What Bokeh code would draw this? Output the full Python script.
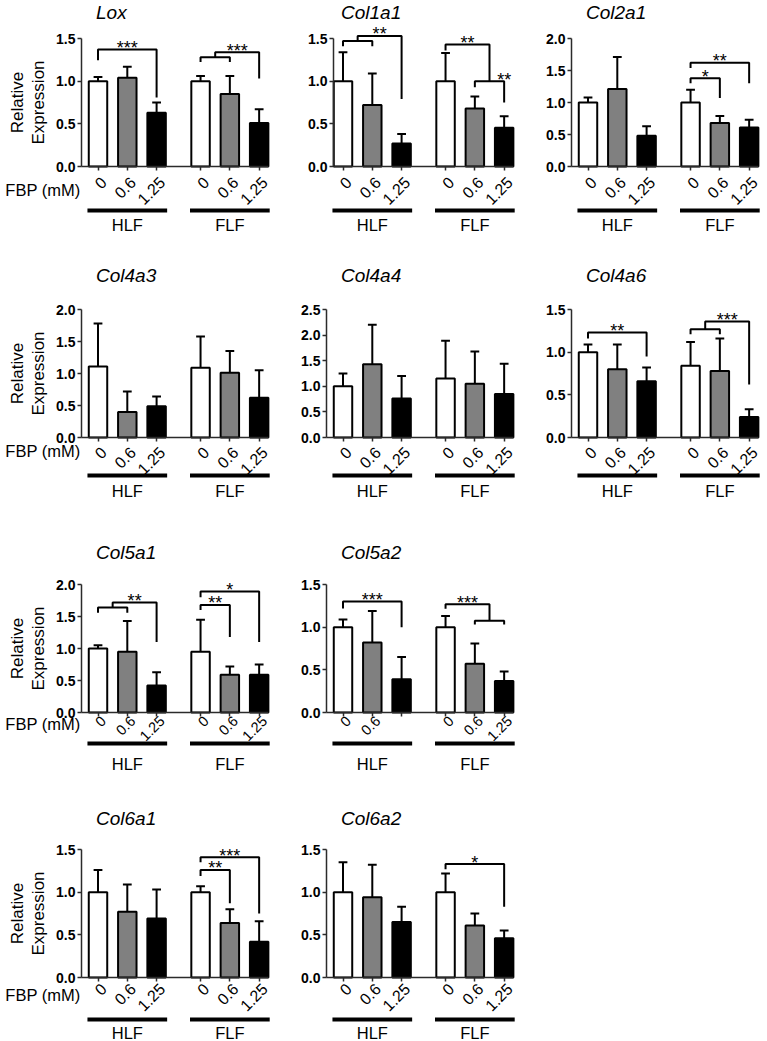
import numpy as np
from bokeh.plotting import figure
from bokeh.models import Range1d, FixedTicker, PrintfTickFormatter
from bokeh.layouts import column, row
from bokeh.embed import file_html
from bokeh.resources import INLINE
from bokeh.core.properties import value

# ---------------- data ----------------
doses = ["0", "0.6", "1.25"]
cell_lines = ["HLF", "FLF"]
bar_colors = ["white", "#808080", "black"]

lox_mean = [1.00, 1.04, 0.63, 1.00, 0.85, 0.51]
lox_err = [0.05, 0.13, 0.12, 0.06, 0.21, 0.16]
col1a1_mean = [1.00, 0.72, 0.27, 1.00, 0.68, 0.455]
col1a1_err = [0.34, 0.37, 0.11, 0.33, 0.14, 0.135]
col2a1_mean = [1.00, 1.21, 0.48, 1.00, 0.68, 0.61]
col2a1_err = [0.08, 0.50, 0.15, 0.20, 0.11, 0.12]
col4a3_mean = [1.11, 0.40, 0.49, 1.09, 1.01, 0.62]
col4a3_err = [0.67, 0.32, 0.15, 0.49, 0.34, 0.43]
col4a4_mean = [1.00, 1.43, 0.76, 1.15, 1.05, 0.85]
col4a4_err = [0.25, 0.77, 0.44, 0.74, 0.63, 0.59]
col4a6_mean = [1.00, 0.80, 0.66, 0.84, 0.78, 0.24]
col4a6_err = [0.09, 0.29, 0.16, 0.28, 0.38, 0.09]
col5a1_mean = [1.00, 0.95, 0.42, 0.95, 0.59, 0.59]
col5a1_err = [0.05, 0.48, 0.21, 0.50, 0.13, 0.16]
col5a2_mean = [1.00, 0.82, 0.39, 1.00, 0.57, 0.37]
col5a2_err = [0.09, 0.37, 0.26, 0.13, 0.24, 0.11]
col6a1_mean = [1.00, 0.77, 0.69, 1.00, 0.64, 0.42]
col6a1_err = [0.26, 0.32, 0.34, 0.07, 0.16, 0.24]
col6a2_mean = [1.00, 0.94, 0.65, 1.00, 0.61, 0.46]
col6a2_err = [0.35, 0.38, 0.18, 0.22, 0.14, 0.09]

y_max = {"Lox": 1.5, "Col1a1": 1.5, "Col2a1": 2.0, "Col4a3": 2.0, "Col4a4": 2.5,
         "Col4a6": 1.5, "Col5a1": 2.0, "Col5a2": 1.5, "Col6a1": 1.5, "Col6a2": 1.5}

# significance brackets: (bar_from, bar_to, top, left_foot, right_foot, label, label_at_bar)
lox_sig = [(0, 2, 1.37, 1.245, 0.81, "***", 1),
           (3, 4, 1.28, 1.225, 1.225, "", 3.5),
           (3.5, 5, 1.34, 1.28, 1.03, "***", 4.25)]
col1a1_sig = [(0, 1, 1.47, 1.41, 1.41, "", 0.5),
              (0.5, 2, 1.53, 1.47, 0.79, "**", 1.25),
              (3, 4.5, 1.43, 1.36, 1.0, "**", 3.75),
              (4, 5, 1.0, 0.93, 0.75, "**", 5)]
col2a1_sig = [(3, 4, 1.38, 1.30, 1.07, "*", 3.5),
              (3, 5, 1.62, 1.54, 1.30, "**", 4)]
col4a6_sig = [(0, 2, 1.23, 1.16, 0.95, "**", 1),
              (3, 4, 1.27, 1.21, 1.21, "", 3.5),
              (3.5, 5, 1.36, 1.27, 0.62, "***", 4.25)]
col5a1_sig = [(0, 1, 1.64, 1.56, 1.56, "", 0.5),
              (0.5, 2, 1.72, 1.64, 1.10, "**", 1.25),
              (3, 4, 1.68, 1.60, 1.18, "**", 3.5),
              (3, 5, 1.89, 1.80, 1.10, "*", 4)]
col5a2_sig = [(0, 2, 1.30, 1.22, 1.0, "***", 1),
              (3, 4.5, 1.27, 1.215, 1.075, "***", 3.75),
              (4, 5, 1.075, 1.03, 1.03, "", 4.5)]
col6a1_sig = [(3, 4, 1.26, 1.19, 0.87, "**", 3.5),
              (3, 5, 1.41, 1.35, 0.75, "***", 4)]
col6a2_sig = [(3, 5, 1.33, 1.27, 0.83, "*", 4)]

panels = {
    "Lox": (lox_mean, lox_err, lox_sig),
    "Col1a1": (col1a1_mean, col1a1_err, col1a1_sig),
    "Col2a1": (col2a1_mean, col2a1_err, col2a1_sig),
    "Col4a3": (col4a3_mean, col4a3_err, []),
    "Col4a4": (col4a4_mean, col4a4_err, []),
    "Col4a6": (col4a6_mean, col4a6_err, col4a6_sig),
    "Col5a1": (col5a1_mean, col5a1_err, col5a1_sig),
    "Col5a2": (col5a2_mean, col5a2_err, col5a2_sig),
    "Col6a1": (col6a1_mean, col6a1_err, col6a1_sig),
    "Col6a2": (col6a2_mean, col6a2_err, col6a2_sig),
}
grid = [["Lox", "Col1a1", "Col2a1"],
        ["Col4a3", "Col4a4", "Col4a6"],
        ["Col5a1", "Col5a2"],
        ["Col6a1", "Col6a2"]]
# tick labels missing in the original figure
hidden_ticks = {"Col5a2": [2]}

# ---------------- layout constants ----------------
FONT = "Liberation Sans"
PX = 29.3            # pixels per bar slot
PLOT_H = 128.0       # pixels from 0 to y max
POS = [0, 1, 2, 3.5, 4.5, 5.5]
BAR_W = 0.63
COL_LEFT = [0, 285, 530]
COL_W = [285, 245, 236]
COL_FIRST = [97.5, 342.5, 587.5]
ROW_H = [262, 273, 260, 245]
ZERO = [166, 175, 177, 182]
TITLE_UP = [154, 162, 160, 159]
FBP_DN = [23, 13, 11.5, 17]
TICKLAB_DN = [13, 12, 6, 8.5]
TICKLAB_SIZE = ["16px", "16px", "14.5px", "16px"]
LINE_DN = [44, 38, 31, 42]
GROUP_DN = [58, 53, 51, 55]
AXIS_COLOR = "#2b2b2b"


def bar_x(i):
    return float(np.interp(i, [0, 1, 2, 3, 4, 5], POS))


def make_panel(gene, r, c):
    mean, err, sig = panels[gene]
    ymax = y_max[gene]
    W, H = COL_W[c], ROW_H[r]
    ppy = PLOT_H / ymax
    x0 = (COL_LEFT[c] - COL_FIRST[c]) / PX
    p = figure(frame_width=W, frame_height=H,
               x_range=Range1d(x0, x0 + W / PX),
               y_range=Range1d(-(H - ZERO[r]) / ppy, ZERO[r] / ppy),
               toolbar_location=None, output_backend="svg", min_border=0, title=None)
    p.outline_line_color = None
    p.grid.visible = False
    p.background_fill_color = "white"
    p.border_fill_color = "white"

    axis_x = (-9.5 if gene == "Col1a1" else -16.5) / PX

    # bars and error bars
    mean = np.array(mean)
    top = mean + np.array(err)
    colors = bar_colors * 2
    p.vbar(x=POS, top=mean, width=BAR_W, bottom=0, fill_color=colors,
           line_color="black", line_width=2)
    p.segment(x0=POS, y0=mean, x1=POS, y1=top, line_color="black", line_width=2)
    p.segment(x0=[x - 0.15 for x in POS], y0=top, x1=[x + 0.15 for x in POS], y1=top,
              line_color="black", line_width=2)

    # significance brackets
    xs, ys, lx, ly, lt = [], [], [], [], []
    for (a, b, t, fa, fb, lab, li) in sig:
        xa, xb = bar_x(a), bar_x(b)
        xs.append([xa, xa, xb, xb])
        ys.append([fa, t, t, fb])
        if lab:
            lx.append(bar_x(li))
            ly.append(t + 1.5 / ppy)
            lt.append(lab)
    if xs:
        p.multi_line(xs=xs, ys=ys, line_color="black", line_width=2)
    if lt:
        p.text(x=lx, y=ly, text=lt, text_font=value(FONT), text_font_size=value("18px"),
               text_align="center", text_baseline="alphabetic", text_color="black")

    # axes
    ya = p.yaxis[0]
    ya.fixed_location = axis_x
    ya.bounds = (0, ymax)
    ya.ticker = FixedTicker(ticks=list(np.arange(0, ymax + 0.01, 0.5)))
    ya.formatter = PrintfTickFormatter(format="%.1f")
    ya.major_label_text_font = FONT
    ya.major_label_text_font_size = "14px"
    ya.major_label_text_font_style = "bold"
    ya.major_label_text_color = "black"
    ya.major_label_standoff = 2
    ya.major_tick_out = 4
    ya.major_tick_in = 0
    ya.minor_tick_out = 0
    ya.minor_tick_in = 0
    ya.axis_line_width = 1.5
    ya.major_tick_line_width = 1.5
    ya.axis_line_color = AXIS_COLOR
    ya.major_tick_line_color = AXIS_COLOR

    xa = p.xaxis[0]
    xa.fixed_location = 0
    xa.bounds = (axis_x, POS[-1] + BAR_W / 2)
    xa.ticker = FixedTicker(ticks=POS)
    xa.major_label_overrides = {x: "" for x in POS}
    xa.major_tick_out = 4
    xa.major_tick_in = 0
    xa.minor_tick_out = 0
    xa.minor_tick_in = 0
    xa.axis_line_width = 1.5
    xa.major_tick_line_width = 1.5
    xa.axis_line_color = AXIS_COLOR
    xa.major_tick_line_color = AXIS_COLOR

    # rotated dose labels under the ticks
    tx, tt = [], []
    for k, x in enumerate(POS):
        if k in hidden_ticks.get(gene, []):
            continue
        tx.append(x + 5.5 / PX)
        tt.append(doses[k % 3])
    p.text(x=tx, y=[-TICKLAB_DN[r] / ppy] * len(tx), text=tt, angle=np.pi / 4,
           text_font=value(FONT), text_font_size=value(TICKLAB_SIZE[r]),
           text_align="right", text_baseline="middle", text_color="black")

    # group lines and labels
    yl = -LINE_DN[r] / ppy
    p.segment(x0=[-0.36, 3.14], y0=[yl, yl], x1=[2.36, 5.86], y1=[yl, yl],
              line_color="black", line_width=4)
    p.text(x=[1, 4.5], y=[-GROUP_DN[r] / ppy] * 2, text=cell_lines,
           text_font=value(FONT), text_font_size=value("16.5px"),
           text_align="center", text_baseline="middle", text_color="black")

    # title
    p.text(x=[-2 / PX], y=[TITLE_UP[r] / ppy], text=[gene], text_font=value(FONT),
           text_font_size=value("19px"), text_font_style="italic",
           text_align="left", text_baseline="middle", text_color="black")

    if c == 0:
        p.text(x=[(17 - COL_FIRST[0]) / PX, (38 - COL_FIRST[0]) / PX], y=[ymax / 2] * 2,
               text=["Relative", "Expression"], angle=np.pi / 2,
               text_font=value(FONT), text_font_size=value("17px"),
               text_align="center", text_baseline="middle", text_color="black")
        p.text(x=[(80 - COL_FIRST[0]) / PX], y=[-FBP_DN[r] / ppy], text=["FBP (mM)"],
               text_font=value(FONT), text_font_size=value("16.5px"),
               text_align="right", text_baseline="middle", text_color="black")
    return p


rows = []
for r, names in enumerate(grid):
    rows.append(row(*[make_panel(g, r, c) for c, g in enumerate(names)], spacing=0))
layout = column(*rows, spacing=0)

open("out.html", "w").write(file_html(layout, INLINE))
